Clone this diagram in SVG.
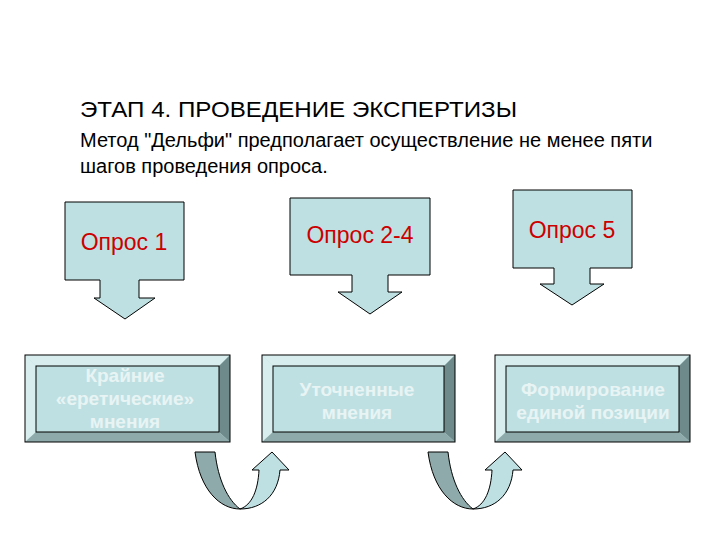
<svg xmlns="http://www.w3.org/2000/svg" width="720" height="540" viewBox="0 0 720 540">
<style>
.t{font-family:"Liberation Sans",Arial,sans-serif;fill:#000}
.c{fill:#bfe0e2;stroke:#000;stroke-width:1}
.q{font-family:"Liberation Sans",Arial,sans-serif;font-size:23px;fill:#cc0000;text-anchor:middle}
.w{font-family:"Liberation Sans",Arial,sans-serif;font-size:19px;font-weight:bold;fill:#e8f4f4;text-anchor:middle}
.ol{stroke:#000;stroke-width:1}
</style>
<rect width="720" height="540" fill="#fff"/>
<text class="t" x="80" y="117" font-size="22" textLength="437" lengthAdjust="spacingAndGlyphs">ЭТАП 4. ПРОВЕДЕНИЕ ЭКСПЕРТИЗЫ</text>
<text class="t" x="80" y="147" font-size="20">Метод "Дельфи" предполагает осуществление не менее пяти</text>
<text class="t" x="80" y="173" font-size="20">шагов проведения опроса.</text>
<g id="callout1">
<path class="c" d="M65,202H184V280H139V298H155L125,319L94,298H100V280H65Z"/>
<text class="q" x="124" y="250">Опрос 1</text>
</g>
<g id="callout2">
<path class="c" d="M290,198H430V275H388V292H402L370,314L338,292H352V275H290Z"/>
<text class="q" x="360" y="243">Опрос 2-4</text>
</g>
<g id="callout3">
<path class="c" d="M513,190H632V268H590V284H604L572,305L540,284H554V268H513Z"/>
<text class="q" x="572" y="238">Опрос 5</text>
</g>
<g id="box1">
<rect x="25" y="355" width="205" height="87" fill="#bfe0e2"/>
<polygon points="25,355 230,355 219,366 36,366" fill="#d8eeee"/>
<polygon points="25,355 36,366 36,432 25,442" fill="#d8eeee"/>
<polygon points="230,355 230,442 219,432 219,366" fill="#6f8a8a"/>
<polygon points="25,442 230,442 219,432 36,432" fill="#8faaaa"/>
<rect x="25" y="355" width="205" height="87" fill="none" class="ol"/>
<rect x="36" y="366" width="183" height="66" fill="none" class="ol"/>
<text class="w" x="125" y="382">Крайние</text>
<text class="w" x="125" y="405">«еретические»</text>
<text class="w" x="125" y="428">мнения</text>
</g>
<g id="box2">
<rect x="262" y="355" width="193" height="87" fill="#bfe0e2"/>
<polygon points="262,355 455,355 444,366 273,366" fill="#d8eeee"/>
<polygon points="262,355 273,366 273,432 262,442" fill="#d8eeee"/>
<polygon points="455,355 455,442 444,432 444,366" fill="#6f8a8a"/>
<polygon points="262,442 455,442 444,432 273,432" fill="#8faaaa"/>
<rect x="262" y="355" width="193" height="87" fill="none" class="ol"/>
<rect x="273" y="366" width="171" height="66" fill="none" class="ol"/>
<text class="w" x="357" y="396">Уточненные</text>
<text class="w" x="357" y="419">мнения</text>
</g>
<g id="box3">
<rect x="495" y="355" width="195" height="87" fill="#bfe0e2"/>
<polygon points="495,355 690,355 679,366 506,366" fill="#d8eeee"/>
<polygon points="495,355 506,366 506,432 495,442" fill="#d8eeee"/>
<polygon points="690,355 690,442 679,432 679,366" fill="#6f8a8a"/>
<polygon points="495,442 690,442 679,432 506,432" fill="#8faaaa"/>
<rect x="495" y="355" width="195" height="87" fill="none" class="ol"/>
<rect x="506" y="366" width="173" height="66" fill="none" class="ol"/>
<text class="w" x="593" y="396">Формирование</text>
<text class="w" x="593" y="419">единой позиции</text>
</g>
<g id="connectors">
<g id="u1">
<path d="M195,452H215C218,480 228,500 240,509C220,509 200,490 195,452Z" fill="#8faaaa" class="ol"/>
<path d="M240,509C252,505 258,490 259,470H252L272,452L289,470H280C278,495 262,509 240,509Z" fill="#bfe0e2" class="ol"/>
</g>
<g transform="translate(233,0)">
<path d="M195,452H215C218,480 228,500 240,509C220,509 200,490 195,452Z" fill="#8faaaa" class="ol"/>
<path d="M240,509C252,505 258,490 259,470H252L272,452L289,470H280C278,495 262,509 240,509Z" fill="#bfe0e2" class="ol"/>
</g>
</g>
</svg>
